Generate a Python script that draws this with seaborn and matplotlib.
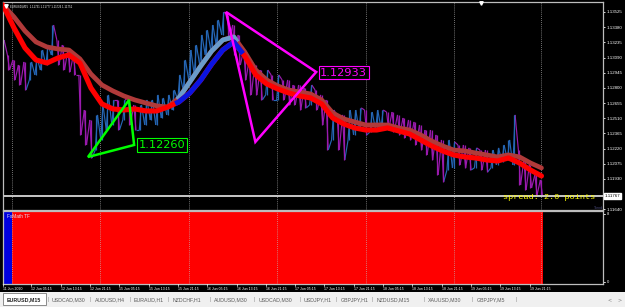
import numpy as np
import pandas as pd
import matplotlib
matplotlib.use("Agg")
import matplotlib.pyplot as plt
from matplotlib.collections import LineCollection
import seaborn as sns

sns.set_style("dark")
plt.rcParams['font.family'] = ['DejaVu Sans']
NARROW = ['Liberation Sans Narrow', 'Liberation Sans', 'DejaVu Sans']
SANS = ['Liberation Sans', 'DejaVu Sans']

# ---------------- data ----------------
symbol_info = "EURUSD,M15  1.11731 1.11777 1.11726 1.11751"
bar_step_h = 1.5
highs = [1.13258, 1.13115, 1.13067, 1.13019, 1.13048, 1.13048, 1.13086, 1.13162, 1.13210, 1.13401,
         1.13258, 1.13210, 1.13162, 1.13115, 1.12924, 1.12589, 1.12494, 1.12542, 1.12637, 1.12733,
         1.12685, 1.12685, 1.12685, 1.12704, 1.12637, 1.12637, 1.12685, 1.12685, 1.12733, 1.12704,
         1.12733, 1.12780, 1.12924, 1.13067, 1.13162, 1.13210, 1.13306, 1.13353, 1.13401, 1.13449,
         1.13525, 1.13497, 1.13401, 1.13306, 1.13162, 1.13067, 1.13019, 1.12971, 1.12971, 1.12924,
         1.12924, 1.12876, 1.12876, 1.12828, 1.12828, 1.12800, 1.12828, 1.12780, 1.12733, 1.12685,
         1.12589, 1.12542, 1.12542, 1.12589, 1.12589, 1.12609, 1.12589, 1.12570, 1.12589, 1.12589,
         1.12570, 1.12570, 1.12542, 1.12513, 1.12494, 1.12475, 1.12446, 1.12398, 1.12398, 1.12351,
         1.12303, 1.12303, 1.12284, 1.12255, 1.12255, 1.12227, 1.12227, 1.12207, 1.12207, 1.12207,
         1.12227, 1.12255, 1.12303, 1.12542, 1.12207, 1.12112, 1.12064, 1.11969, 1.11921]
lows = [1.13115, 1.12971, 1.12876, 1.12828, 1.12780, 1.12876, 1.12924, 1.12971, 1.13019, 1.13115,
        1.13019, 1.12971, 1.12952, 1.12924, 1.12351, 1.12255, 1.12131, 1.12207, 1.12303, 1.12398,
        1.12446, 1.12398, 1.12494, 1.12446, 1.12398, 1.12398, 1.12446, 1.12494, 1.12446, 1.12513,
        1.12542, 1.12589, 1.12685, 1.12780, 1.12876, 1.12924, 1.13019, 1.13115, 1.13162, 1.13210,
        1.13306, 1.13258, 1.13115, 1.13019, 1.12876, 1.12733, 1.12733, 1.12685, 1.12733, 1.12685,
        1.12685, 1.12685, 1.12637, 1.12637, 1.12589, 1.12609, 1.12637, 1.12589, 1.12446, 1.12207,
        1.12303, 1.12207, 1.12112, 1.12303, 1.12351, 1.12398, 1.12351, 1.12379, 1.12398, 1.12418,
        1.12398, 1.12379, 1.12351, 1.12322, 1.12303, 1.12255, 1.12207, 1.12160, 1.12112, 1.11969,
        1.11902, 1.12016, 1.12036, 1.12064, 1.12036, 1.12016, 1.12036, 1.12016, 1.11997, 1.12036,
        1.12064, 1.12093, 1.12112, 1.12064, 1.11873, 1.11825, 1.11845, 1.11778, 1.11768]

ma_step_h = 3
ma_slow = [1.13592, 1.13478, 1.13344, 1.13239, 1.13191, 1.13172, 1.13162, 1.13077, 1.12933, 1.12828,
           1.12771, 1.12723, 1.12685, 1.12656, 1.12628, 1.12618, 1.12704, 1.12857, 1.13010, 1.13153,
           1.13258, 1.13287, 1.13143, 1.12971, 1.12876, 1.12819, 1.12780, 1.12761, 1.12742, 1.12685,
           1.12561, 1.12504, 1.12475, 1.12446, 1.12446, 1.12446, 1.12418, 1.12398, 1.12351, 1.12293,
           1.12246, 1.12207, 1.12198, 1.12179, 1.12160, 1.12141, 1.12160, 1.12141, 1.12083, 1.12036]
ma_fast = [1.13592, 1.13373, 1.13182, 1.13067, 1.13038, 1.13086, 1.13115, 1.13038, 1.12800, 1.12647,
           1.12599, 1.12589, 1.12599, 1.12580, 1.12580, 1.12618, 1.12666, 1.12752, 1.12876, 1.13029,
           1.13162, 1.13239, 1.13105, 1.12924, 1.12838, 1.12790, 1.12752, 1.12723, 1.12704, 1.12647,
           1.12513, 1.12456, 1.12418, 1.12398, 1.12398, 1.12418, 1.12389, 1.12360, 1.12303, 1.12246,
           1.12198, 1.12160, 1.12141, 1.12131, 1.12112, 1.12102, 1.12131, 1.12083, 1.12016, 1.11959]
slow_up_span = (47.5, 64.0)
fast_up_span = (47.0, 65.5)

green_tri_h = [23.2, 34.4, 35.8]
green_tri_p = [1.12140, 1.12685, 1.12255]
green_label = "1.12260"
mag_tri_h = [60.9, 85.5, 68.9]
mag_tri_p = [1.13525, 1.12952, 1.12284]
mag_label = "1.12933"

bid_price = 1.11767
spread_text = "spread: 2.0 points"
price_ticks = [1.13525, 1.13380, 1.13235, 1.13090, 1.12945, 1.12800, 1.12655,
               1.12510, 1.12365, 1.12220, 1.12075, 1.11930, 1.11640]
time_labels = ["11 Jun 2020", "12 Jun 05:15", "12 Jun 13:15", "12 Jun 21:15", "15 Jun 05:15",
               "15 Jun 13:15", "15 Jun 21:15", "16 Jun 05:15", "16 Jun 13:15", "16 Jun 21:15",
               "17 Jun 05:15", "17 Jun 13:15", "17 Jun 21:15", "18 Jun 05:15", "18 Jun 13:15",
               "18 Jun 21:15", "19 Jun 05:15", "19 Jun 13:15", "19 Jun 21:15"]
time_label_h = [0.0] + [7.75 + 8 * k for k in range(18)]
grid_h = [2.5, 26.5, 50.8, 74.9, 99.0, 123.0, 147.0]
tf_start = [0.0, 2.5]
tf_end = [2.5, 147.5]
tf_state = ["up", "down"]
tf_max = 8
tabs = ["EURUSD,M15", "USDCAD,M30", "AUDUSD,H4", "EURAUD,H1", "NZDCHF,H1", "AUDUSD,M30",
        "USDCAD,M30", "USDJPY,H1", "GBPJPY,H1", "NZDUSD,M15", "XAUUSD,M30", "GBPJPY,M5"]

# ---------------- figure ----------------
W, H = 625, 307
fig = plt.figure(figsize=(W / 100, H / 100), dpi=100, facecolor='black')

def fx(px):
    return px / W

def fy(py):
    return 1 - py / H

XMAX = 163.8
ax = fig.add_axes([fx(3), fy(210), fx(603) - fx(3), fy(2) - fy(210)])
ax2 = fig.add_axes([fx(3), fy(284), fx(603) - fx(3), fy(211) - fy(284)])
frame_col = '#BDBDBD'
for a in (ax, ax2):
    a.set_facecolor('black')
    a.set_xlim(0, XMAX)
    for s in a.spines.values():
        s.set_color(frame_col)
        s.set_linewidth(0.9)
    a.set_xticks([])
    a.grid(False)

ax.set_ylim(1.116339, 1.136205)

# grid
for g in grid_h:
    ax.axvline(g, color='#9A9A9A', ls=(0, (1, 1.5)), lw=0.6, zorder=0)

# price bars as dense zigzag
hb = np.arange(len(highs)) * bar_step_h
mids = (np.array(highs) + np.array(lows)) / 2
up_col, dn_col = '#2566B5', '#9A1AAE'
bar_up = [i == 0 or mids[i] >= mids[i - 1] for i in range(len(hb))]
pts, pcol = [], []
for i, h in enumerate(hb):
    a_, b_ = (lows[i], highs[i]) if bar_up[i] else (highs[i], lows[i])
    pts.append((h - 0.3, a_))
    pts.append((h + 0.3, b_))
    pcol.append(up_col if bar_up[i] else dn_col)
segs, segcols = [], []
for j in range(len(pts) - 1):
    segs.append([pts[j], pts[j + 1]])
    segcols.append(pcol[(j + 1) // 2])
ax.add_collection(LineCollection(segs, colors=segcols, linewidths=0.85, zorder=2))
ax.vlines(hb, lows, highs, colors=pcol, lw=0.9, zorder=2)

# moving averages
hm = np.arange(len(ma_slow)) * ma_step_h

def ma_plot(vals, span, base_col, up_col_, lw, z):
    vals = np.array(vals)
    df = pd.DataFrame({"h": hm, "p": vals})
    sns.lineplot(data=df, x="h", y="p", ax=ax, color=base_col, lw=lw, zorder=z,
                 solid_capstyle='round', estimator=None, sort=False)
    inside = (hm > span[0]) & (hm < span[1])
    hh = np.concatenate([[span[0]], hm[inside], [span[1]]])
    pp = np.interp(hh, hm, vals)
    df2 = pd.DataFrame({"h": hh, "p": pp})
    sns.lineplot(data=df2, x="h", y="p", ax=ax, color=up_col_, lw=lw, zorder=z + 0.5,
                 solid_capstyle='butt', estimator=None, sort=False)

ma_plot(ma_slow, slow_up_span, '#B03A3A', '#6A9CCB', 3.4, 4)
ma_plot(ma_fast, fast_up_span, '#FF0000', '#0A14E0', 3.7, 5)
ax.set_xlabel("")
ax.set_ylabel("")

# triangles
ax.fill(green_tri_h, green_tri_p, fill=False, edgecolor='#00FF00', lw=1.8, zorder=6)
ax.fill(mag_tri_h, mag_tri_p, fill=False, edgecolor='#FF00FF', lw=1.8, zorder=6)
ax.text(37.0, green_tri_p[2], green_label, color='#00FF00', fontsize=8.2, va='center', ha='left',
        zorder=7, bbox=dict(facecolor='black', edgecolor='#00FF00', lw=0.8, pad=1.2))
ax.text(86.6, mag_tri_p[1] - 0.00005, mag_label, color='#FF00FF', fontsize=8.2, va='center',
        ha='left', zorder=7, bbox=dict(facecolor='black', edgecolor='#FF00FF', lw=0.8, pad=1.2))

# bid / ask lines
ax.axhline(bid_price, color='#C8C8C8', lw=0.7, zorder=3)
ax.axhline(bid_price + 0.00014, color='#C8C8C8', lw=0.7, zorder=3)
ax.text(136.4, 1.11749, spread_text, color='#FFFF00', fontsize=6.1, family='Liberation Mono',
        va='center', ha='left', zorder=8)
ax.text(161.4, 1.11653, "Trend", color='#4A4A7A', fontsize=2.6, family=NARROW,
        va='center', ha='left')

# info text
ax.text(0.012, 0.988, symbol_info, transform=ax.transAxes, color='white', fontsize=2.0,
        family=NARROW, va='top', ha='left')
ax.plot([0.8], [1.13582], marker='v', color='white', ms=2.5, zorder=9)
ax.plot([130.4], [1.13608], marker='v', color='white', ms=2.5, zorder=9, clip_on=False)

# right axis
ax.yaxis.tick_right()
ax.set_yticks(price_ticks)
ax.set_yticklabels([f"{t:.5f}" for t in price_ticks], family=SANS)
ax.tick_params(axis='y', colors='white', labelsize=3.2, length=1.5, width=0.6, pad=1)
ax.text(1.003, bid_price, f"{bid_price:.5f}", transform=ax.get_yaxis_transform(),
        color='black', fontsize=3.2, family=SANS, va='center', ha='left',
        bbox=dict(facecolor='white', edgecolor='white', pad=0.6))

# sub window
ax2.set_ylim(0, tf_max)
for s0, s1, st in zip(tf_start, tf_end, tf_state):
    ax2.axvspan(s0, s1, color='#0000DD' if st == 'up' else '#FF0000', lw=0, zorder=1)
for g in grid_h:
    ax2.axvline(g, color='#C8A0A0', ls=(0, (1, 1.5)), lw=0.6, zorder=2)
ax2.text(0.006, 0.96, "FxMath TF", transform=ax2.transAxes, color='#E0E0F0', fontsize=3.4,
         family=SANS, va='top', ha='left', zorder=3)
ax2.set_yticks([])
for val, yoff in ((tf_max, 0.955), (0, 0.03)):
    ax2.text(1.006, yoff, str(val), transform=ax2.transAxes, color='white', fontsize=3.0,
             family=SANS, va='center', ha='left')
    ax2.plot([1.0, 1.004], [yoff, yoff], transform=ax2.transAxes, color='white', lw=0.6,
             clip_on=False)

# time labels
for lab, h in zip(time_labels, time_label_h):
    xp = 3 + h * (600 / XMAX)
    fig.text(fx(xp), fy(289), lab, color='white', fontsize=2.5, family=NARROW,
             va='center', ha='left')
    fig.add_artist(plt.Line2D([fx(xp), fx(xp)], [fy(284), fy(286)], color='white', lw=0.5))

# tab strip
tab_ax = fig.add_axes([0, 0, 1, fy(292)])
tab_ax.set_xlim(0, W)
tab_ax.set_ylim(H, 292)
tab_ax.set_facecolor('#F0F0F0')
tab_ax.set_xticks([])
tab_ax.set_yticks([])
for s in tab_ax.spines.values():
    s.set_visible(False)
tab_x = [7, 52, 95, 134, 173, 214, 259, 304, 341, 377, 428, 477]
tab_ax.add_patch(plt.Rectangle((3, 293), 43, 12, facecolor='white', edgecolor='#7A7A7A', lw=0.6))
for i, (name, xp) in enumerate(zip(tabs, tab_x)):
    tab_ax.text(xp, 299.5, name, color='#202020' if i == 0 else '#5A5A5A', fontsize=3.8,
                family=SANS, va='center', ha='left', fontweight='bold' if i == 0 else 'normal')
    if i > 0:
        tab_ax.text(xp - 5, 299.5, "|", color='#909090', fontsize=3.8, family=SANS,
                    va='center', ha='left')
tab_ax.text(516, 299.5, "|", color='#909090', fontsize=3.8, family=SANS, va='center', ha='left')
tab_ax.text(607, 299.5, "<", color='#808080', fontsize=3.6, va='center', ha='left')
tab_ax.text(617, 299.5, ">", color='#808080', fontsize=3.6, va='center', ha='left')

fig.savefig("out.png", dpi=100, facecolor='black')
